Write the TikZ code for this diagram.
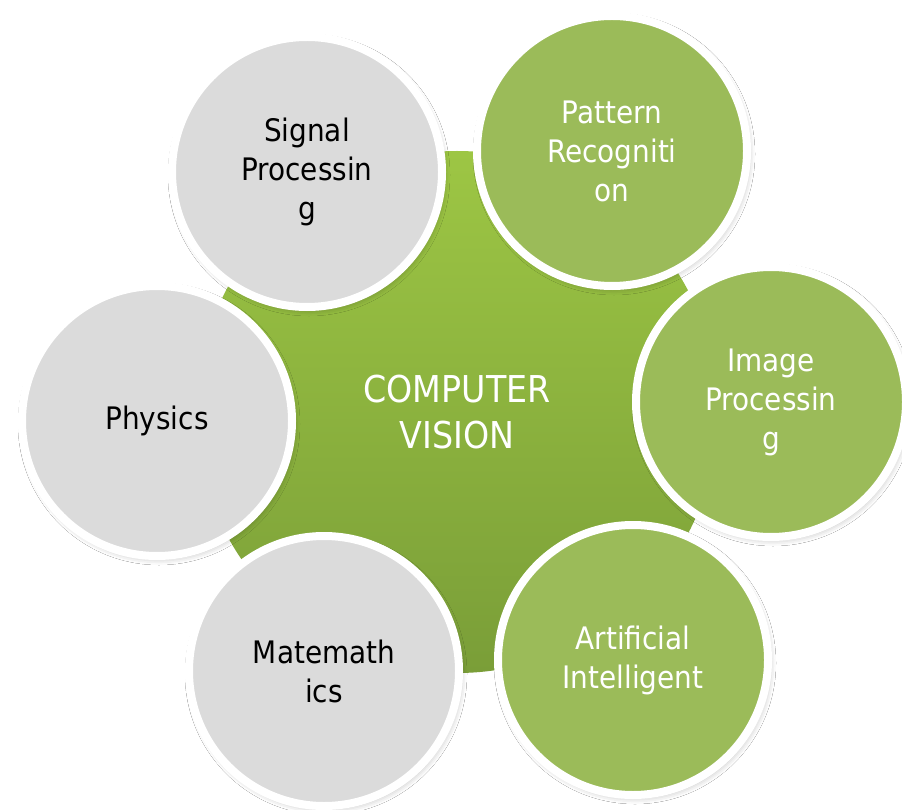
\documentclass[tikz,border=0pt]{standalone}
\usepackage{fontspec}
\setmainfont{DejaVu Sans Condensed}
\usetikzlibrary{shadows.blur}
\definecolor{grayfill}{HTML}{DBDBDB}
\definecolor{greenfill}{HTML}{9BBB59}
\definecolor{centertop}{RGB}{157,198,68}
\definecolor{centerbot}{RGB}{122,158,56}
\tikzset{
  outer/.style={circle, draw=white, line width=8pt, minimum size=270pt, inner sep=0pt,
    align=center, font=\fontsize{31}{39}\selectfont,
    blur shadow={shadow xshift=2pt, shadow yshift=-3pt, shadow blur radius=6pt, shadow opacity=28}},
  grayc/.style={outer, fill=grayfill, text=black},
  greenc/.style={outer, fill=greenfill, text=white},
  hub/.style={circle, minimum size=522pt, inner sep=0pt, top color=centertop, bottom color=centerbot,
    text=white, align=center, font=\fontsize{37}{46}\selectfont}
}
\begin{document}
\begin{tikzpicture}[x=1pt,y=-1pt]
\useasboundingbox (0,0) rectangle (902,810);
\fill[white] (0,0) rectangle (902,810);
\node[hub] (cv) at (457,412) {COMPUTER\\VISION};
\node[grayc] (sp) at (307,172) {Signal\\Processin\\g};
\node[greenc] (pr) at (612,151) {Pattern\\Recogniti\\on};
\node[greenc] (ip) at (771,402) {Image\\Processin\\g};
\node[greenc] (ai) at (633,660) {Artificial\\Intelligent};
\node[grayc] (ma) at (324,671) {Matemath\\ics};
\node[grayc] (ph) at (157,421) {Physics};
\end{tikzpicture}
\end{document}
